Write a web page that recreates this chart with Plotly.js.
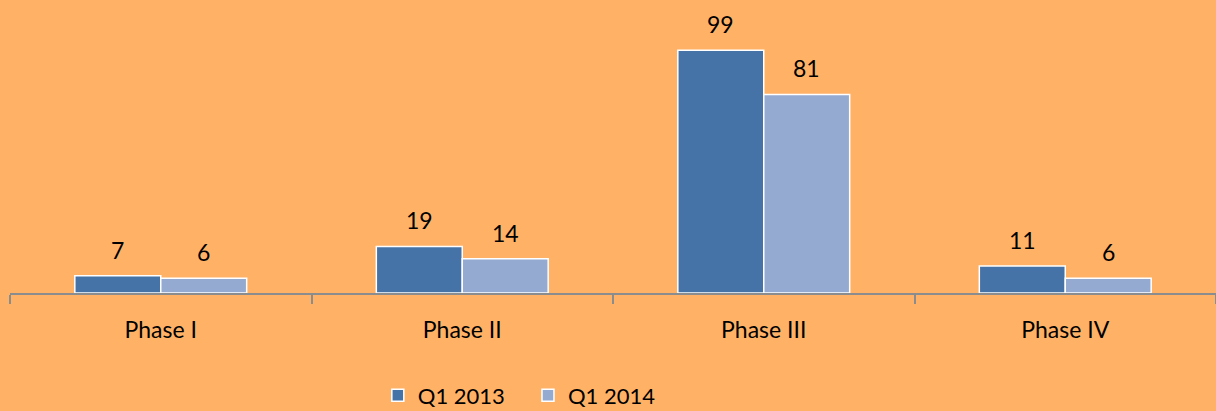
<!DOCTYPE html>
<html><head><meta charset="utf-8">
<script src="https://cdn.plot.ly/plotly-3.0.1.min.js"></script>
<style>body{margin:0;background:#FFB266;}#c{width:1216px;height:411px;}</style>
</head><body><div id="c"></div>
<script>
const categories = ["Phase I", "Phase II", "Phase III", "Phase IV"];
const q1_2013 = [7, 19, 99, 11];
const q1_2014 = [6, 14, 81, 6];
const seriesNames = ["Q1 2013", "Q1 2014"];
const colors = ["#4673A7", "#94AAD0"];

const font = {family: "Lato, 'Open Sans', sans-serif", size: 23, color: "#000"};
const legendFont = {family: "Lato, 'Open Sans', sans-serif", size: 22, color: "#000"};
const traces = [q1_2013, q1_2014].map((vals, i) => ({
  type: "bar", x: categories, y: vals, name: seriesNames[i],
  legend: i === 0 ? "legend" : "legend2",
  marker: {color: colors[i], line: {color: "#ffffff", width: 1.5}},
  hoverinfo: "x+y"
}));
const annotations = [];
[q1_2013, q1_2014].forEach((vals, i) => {
  vals.forEach((v, j) => {
    annotations.push({x: categories[j], y: v, xref: "x", yref: "y", text: String(v),
      showarrow: false, xshift: i === 0 ? -43 : 43, yshift: 26, font: font});
  });
});
const legendBase = {orientation: "h", y: -0.35, xanchor: "left", yanchor: "middle",
  font: legendFont, bgcolor: "rgba(0,0,0,0)", itemwidth: 30};
const layout = {
  width: 1216, height: 411,
  paper_bgcolor: "#FFB266", plot_bgcolor: "#FFB266",
  margin: {l: 10, r: 0, t: 0, b: 118, autoexpand: false},
  barmode: "group", bargap: 0.43, bargroupgap: 0,
  font: font,
  xaxis: {type: "category", range: [-0.5, 3.5], showline: true, linecolor: "#8A8C8E", linewidth: 2,
    ticks: "outside", tickson: "boundaries", ticklen: 9, tickcolor: "#8A8C8E", tickwidth: 2,
    ticklabelstandoff: 15, showgrid: false, zeroline: false, tickfont: font, automargin: false},
  yaxis: {range: [0, 119.5], visible: false, showgrid: false, zeroline: false},
  showlegend: true,
  legend: Object.assign({}, legendBase, {x: 0.305}),
  legend2: Object.assign({}, legendBase, {x: 0.4295}),
  annotations: annotations
};
Plotly.newPlot("c", traces, layout, {displayModeBar: false});
</script></body></html>
